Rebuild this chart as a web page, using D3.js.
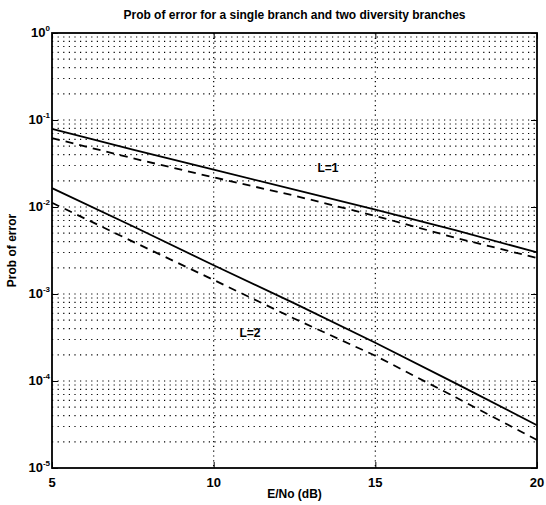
<!DOCTYPE html>
<html>
<head>
<meta charset="utf-8">
<script src="https://cdnjs.cloudflare.com/ajax/libs/d3/7.8.5/d3.min.js"></script>
<style>
  body { margin: 0; background: #fff; }
  text { font-family: "Liberation Sans", Arial, Helvetica, sans-serif; fill: #000; }
</style>
</head>
<body>
<div id="chart"></div>
<script>
// values (E/No in dB, probability of error)
var snrDb = [5, 7.5, 10, 12.5, 15, 17.5, 20];
var l1Solid  = [0.079, 0.0457, 0.0269, 0.0158, 0.0093, 0.0054, 0.0030];
var l1Dashed = [0.062, 0.0363, 0.0219, 0.0135, 0.0079, 0.0044, 0.0026];
var l2Solid  = [0.0165, 0.0060, 0.00214, 0.00078, 0.000275, 0.0000933, 0.000031];
var l2Dashed = [0.0112, 0.0040, 0.00145, 0.00052, 0.000195, 0.0000645, 0.000021];
var xTicks = [5, 10, 15, 20];
var yExponents = [0, -1, -2, -3, -4, -5];

var width = 546, height = 505;
var margin = {top: 33, right: 9, bottom: 37, left: 52};

var svg = d3.select("#chart").append("svg")
    .attr("width", width)
    .attr("height", height);

var x = d3.scaleLinear()
    .domain([5, 20])
    .range([margin.left, width - margin.right]);

var y = d3.scaleLog()
    .domain([1e-5, 1])
    .range([height - margin.bottom, margin.top]);

// grid: decades plus 2..9 minor lines, all dotted like the matlab plot
var gridVals = [];
yExponents.forEach(function(e) {
    if (e > -5) {
        for (var k = 1; k <= 9; k++) gridVals.push(k * Math.pow(10, e - 1));
    }
});

var grid = svg.append("g")
    .attr("stroke", "#000")
    .attr("stroke-width", 1.2)
    .attr("stroke-dasharray", "1.2,4.4");

grid.selectAll("line.h").data(gridVals.filter(function(v) { return v > 1e-5 && v < 1; }))
  .enter().append("line")
    .attr("class", "h")
    .attr("x1", x(5)).attr("x2", x(20))
    .attr("y1", function(d) { return y(d); })
    .attr("y2", function(d) { return y(d); });

grid.selectAll("line.v").data(xTicks.slice(1, -1))
  .enter().append("line")
    .attr("class", "v")
    .attr("stroke-dasharray", "1.2,3.6")
    .attr("x1", function(d) { return x(d); })
    .attr("x2", function(d) { return x(d); })
    .attr("y1", y(1)).attr("y2", y(1e-5));

// curves
var line = d3.line()
    .x(function(d) { return x(d[0]); })
    .y(function(d) { return y(d[1]); });

function curve(vals, dashed) {
    svg.append("path")
        .datum(d3.zip(snrDb, vals))
        .attr("d", line)
        .attr("fill", "none")
        .attr("stroke", "#000")
        .attr("stroke-width", 1.8)
        .attr("stroke-dasharray", dashed ? "8,6" : null);
}
curve(l1Solid, false);
curve(l1Dashed, true);
curve(l2Solid, false);
curve(l2Dashed, true);

// frame
svg.append("rect")
    .attr("x", x(5)).attr("y", y(1))
    .attr("width", x(20) - x(5))
    .attr("height", y(1e-5) - y(1))
    .attr("fill", "none")
    .attr("stroke", "#000")
    .attr("stroke-width", 1.8);

// axes, ticks pointing inwards
var yAxisL = d3.axisRight(y)
    .tickValues(yExponents.map(function(e) { return Math.pow(10, e); }))
    .tickSize(6).tickFormat("");
svg.append("g").attr("transform", "translate(" + x(5) + ",0)").call(yAxisL)
    .call(function(g) { g.select(".domain").remove(); });

var yAxisR = d3.axisLeft(y)
    .tickValues(yExponents.map(function(e) { return Math.pow(10, e); }))
    .tickSize(6).tickFormat("");
svg.append("g").attr("transform", "translate(" + x(20) + ",0)").call(yAxisR)
    .call(function(g) { g.select(".domain").remove(); });

var xAxisB = d3.axisTop(x).tickValues(xTicks).tickSize(6).tickFormat("");
svg.append("g").attr("transform", "translate(0," + y(1e-5) + ")").call(xAxisB)
    .call(function(g) { g.select(".domain").remove(); });

var xAxisT = d3.axisBottom(x).tickValues(xTicks).tickSize(6).tickFormat("");
svg.append("g").attr("transform", "translate(0," + y(1) + ")").call(xAxisT)
    .call(function(g) { g.select(".domain").remove(); });

// tick labels
svg.selectAll("text.xt").data(xTicks)
  .enter().append("text")
    .attr("class", "xt")
    .attr("x", function(d) { return x(d); })
    .attr("y", y(1e-5) + 19)
    .attr("text-anchor", "middle")
    .attr("font-size", 13)
    .attr("font-weight", "bold")
    .text(function(d) { return d; });

var yt = svg.selectAll("text.yt").data(yExponents)
  .enter().append("text")
    .attr("class", "yt")
    .attr("x", x(5) - 2)
    .attr("y", function(d) { return y(Math.pow(10, d)) + 4; })
    .attr("text-anchor", "end")
    .attr("font-size", 13)
    .attr("font-weight", "bold");
yt.append("tspan").text("10");
yt.append("tspan")
    .attr("dy", -6)
    .attr("font-size", 8)
    .text(function(d) { return d; });

// titles
svg.append("text")
    .attr("x", (x(5) + x(20)) / 2)
    .attr("y", 19)
    .attr("text-anchor", "middle")
    .attr("font-size", 12)
    .attr("font-weight", "bold")
    .text("Prob of error for a single branch and two diversity branches");

svg.append("text")
    .attr("x", (x(5) + x(20)) / 2)
    .attr("y", 498)
    .attr("text-anchor", "middle")
    .attr("font-size", 12)
    .attr("font-weight", "bold")
    .text("E/No (dB)");

svg.append("text")
    .attr("transform", "translate(16," + ((y(1) + y(1e-5)) / 2) + ") rotate(-90)")
    .attr("text-anchor", "middle")
    .attr("font-size", 12)
    .attr("font-weight", "bold")
    .text("Prob of error");

// curve labels
svg.append("text")
    .attr("x", 328).attr("y", y(0.025))
    .attr("text-anchor", "middle")
    .attr("font-size", 12)
    .attr("font-weight", "bold")
    .text("L=1");

svg.append("text")
    .attr("x", 250).attr("y", y(0.00032))
    .attr("text-anchor", "middle")
    .attr("font-size", 12)
    .attr("font-weight", "bold")
    .text("L=2");
</script>
</body>
</html>
